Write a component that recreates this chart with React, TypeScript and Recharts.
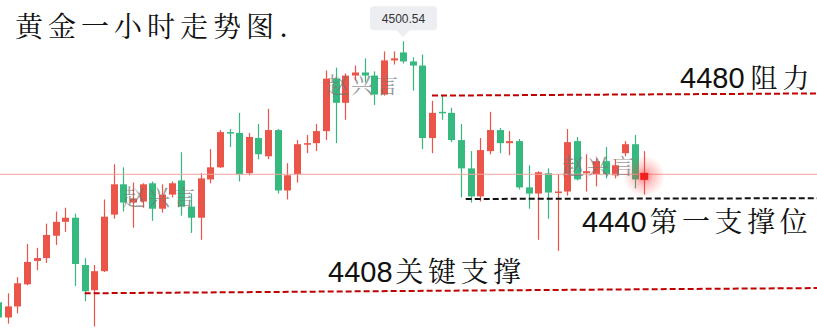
import { Bar, ComposedChart, ReferenceDot, ReferenceLine, XAxis, YAxis } from "recharts";

// hourly gold candles (red = up, green = down)
const opens = [
  4399.0, 4393.1, 4397.4, 4406.0, 4415.1, 4416.2, 4424.9, 4430.3, 4431.9, 4413.5,
  4403.7, 4411.1, 4433.1, 4444.9, 4437.8, 4438.2, 4445.3, 4435.4, 4440.9, 4446.4,
  4436.2, 4431.9, 4446.8, 4451.5, 4465.2, 4464.9, 4449.2, 4462.9, 4455.8, 4466.0,
  4442.5, 4448.8, 4460.5, 4460.9, 4465.6, 4486.0, 4476.6, 4487.2, 4488.4, 4487.2,
  4479.8, 4493.1, 4496.2, 4492.7, 4491.1, 4462.9, 4473.1, 4472.7, 4462.1, 4451.1,
  4440.2, 4457.8, 4466.0, 4460.9, 4461.7, 4443.7, 4441.3, 4449.2, 4441.7, 4442.1,
  4461.7, 4449.2, 4448.8, 4453.9, 4448.4, 4457.0, 4460.5, 4446.8,
];
const highs = [
  4400.2, 4402.5, 4408.8, 4421.7, 4420.2, 4429.6, 4434.3, 4435.8, 4433.5, 4416.2,
  4413.5, 4439.0, 4452.7, 4451.5, 4445.6, 4445.3, 4446.0, 4444.9, 4446.0, 4457.4,
  4441.3, 4449.2, 4458.6, 4466.0, 4466.4, 4472.7, 4464.9, 4468.4, 4474.3, 4466.4,
  4453.1, 4462.1, 4464.1, 4468.4, 4489.2, 4490.3, 4488.0, 4491.1, 4493.9, 4488.8,
  4496.6, 4496.6, 4500.54, 4494.3, 4495.4, 4477.4, 4479.4, 4474.7, 4468.4, 4457.8,
  4462.9, 4473.1, 4466.8, 4465.6, 4462.5, 4452.3, 4450.0, 4451.1, 4448.8, 4466.4,
  4463.3, 4456.6, 4455.0, 4459.4, 4454.7, 4461.7, 4464.1, 4457.8,
];
const lows = [
  4391.9, 4390.7, 4394.7, 4405.6, 4411.5, 4414.3, 4421.3, 4426.4, 4405.3, 4399.4,
  4389.6, 4410.8, 4431.5, 4434.3, 4428.0, 4435.8, 4430.7, 4433.9, 4439.8, 4432.7,
  4426.0, 4423.3, 4445.3, 4451.2, 4459.4, 4446.0, 4448.4, 4454.7, 4454.7, 4441.3,
  4439.0, 4445.6, 4457.0, 4457.8, 4462.1, 4460.9, 4470.0, 4485.3, 4484.5, 4475.8,
  4479.4, 4491.5, 4491.9, 4481.3, 4458.6, 4457.0, 4470.0, 4461.3, 4439.8, 4437.8,
  4438.2, 4456.6, 4457.0, 4456.2, 4442.9, 4435.4, 4423.3, 4431.5, 4419.0, 4440.5,
  4446.4, 4442.1, 4444.1, 4447.2, 4447.2, 4455.8, 4443.3, 4440.9,
];
const closes = [
  4393.1, 4397.4, 4406.4, 4414.7, 4416.2, 4425.2, 4430.3, 4431.9, 4413.9, 4403.3,
  4411.1, 4432.3, 4444.9, 4437.8, 4439.4, 4444.9, 4435.4, 4440.9, 4445.3, 4436.2,
  4431.9, 4447.2, 4451.5, 4465.2, 4464.9, 4448.8, 4463.3, 4456.6, 4466.0, 4442.5,
  4448.4, 4460.5, 4460.9, 4465.6, 4486.0, 4476.6, 4487.2, 4488.4, 4487.2, 4479.8,
  4493.1, 4493.9, 4492.7, 4491.1, 4462.9, 4472.7, 4472.7, 4462.1, 4451.1, 4440.2,
  4458.2, 4466.0, 4460.9, 4461.7, 4443.7, 4441.3, 4449.6, 4441.7, 4442.1, 4461.3,
  4446.8, 4450.0, 4453.9, 4448.8, 4452.3, 4460.5, 4446.8, 4449.2,
];

const slotCount = 88; // candles plus empty space on the right
const peakIndex = 42;
const peakLabel = "4500.54";
const currentPrice = 4448.8;

// hand drawn levels: [startSlot, yLeft, yRight]
const resistanceLine = [45, 4479.4, 4480.3];
const firstSupportLine = [49, 4439.2, 4439.5];
const keySupportLine = [9, 4402.5, 4404.6];

const RED = "#eb5449";
const GREEN = "#35b97f";

const rows = Array.from({ length: slotCount }, (_, i) =>
  i < opens.length
    ? { t: i, open: opens[i], high: highs[i], low: lows[i], close: closes[i] }
    : { t: i }
);

function Candle(props: any) {
  const { x, y, width, height, payload } = props;
  if (!payload || payload.open == null || !isFinite(y) || !isFinite(height)) return null;
  const top = Math.min(y, y + height);
  const span = Math.abs(height);
  const k = span / (payload.high - payload.low);
  const toY = (v: number) => top + (payload.high - v) * k;
  const cx = Math.round(x + width / 2);
  const color = payload.close >= payload.open ? RED : GREEN;
  const bodyTop = toY(Math.max(payload.open, payload.close));
  const bodyH = Math.max(1.5, Math.abs(toY(payload.open) - toY(payload.close)));
  return (
    <g>
      <line x1={cx + 0.5} x2={cx + 0.5} y1={top} y2={top + span} stroke={color} strokeWidth={1.2} />
      <rect x={cx - 3} y={bodyTop} width={7} height={bodyH} fill={color} />
    </g>
  );
}

function PeakTag(props: any) {
  const { cx, cy } = props;
  if (cx == null) return null;
  return (
    <g>
      <rect x={cx - 33} y={cy - 35} width={67} height={24} rx={4} fill="#eceef1" />
      <path d={`M${cx - 7},${cy - 11.5} L${cx + 7},${cy - 11.5} L${cx},${cy - 4} Z`} fill="#eceef1" />
      <text x={cx + 0.5} y={cy - 18.5} textAnchor="middle" fontSize={12} fill="#333"
        fontFamily="'Liberation Sans', Arial, sans-serif">
        {peakLabel}
      </text>
    </g>
  );
}

function Glow(props: any) {
  const { cx, cy } = props;
  if (cx == null) return null;
  return (
    <g>
      <defs>
        <radialGradient id="glow">
          <stop offset="0%" stopColor="#ff2a2a" stopOpacity={0.6} />
          <stop offset="45%" stopColor="#ff3b3b" stopOpacity={0.28} />
          <stop offset="100%" stopColor="#ff5050" stopOpacity={0} />
        </radialGradient>
      </defs>
      <circle cx={cx} cy={cy} r={21} fill="url(#glow)" />
      <rect x={cx - 4} y={cy - 3.5} width={8} height={7} fill="#f21f1f" />
    </g>
  );
}

const cjk = "'Noto Serif CJK SC', 'AR PL UKai CN', serif";
const digits = "'Liberation Sans', Arial, sans-serif";

export default function App() {
  const last = opens.length - 1;
  return (
    <div style={{ position: "fixed", left: 0, top: 0, width: 817, height: 328, overflow: "hidden", background: "#fff" }}>
      <ComposedChart
        width={849}
        height={328}
        data={rows}
        margin={{ top: 0, right: 0, bottom: 0, left: 0 }}
        style={{ position: "absolute", left: -7, top: 0 }}
      >
        <XAxis dataKey="t" type="category" hide />
        <YAxis hide domain={[4389, 4516.6]} allowDataOverflow />
        <ReferenceLine y={currentPrice} stroke="#f1a49c" strokeWidth={1} />
        <Bar
          dataKey={(d: any) => (d.open == null ? null : [d.low, d.high])}
          shape={Candle}
          isAnimationActive={false}
        />
        <ReferenceLine
          segment={[{ x: resistanceLine[0], y: resistanceLine[1] }, { x: slotCount - 1, y: resistanceLine[2] }]}
          stroke="#c00000" strokeWidth={2} strokeDasharray="6 3"
        />
        <ReferenceLine
          position="start"
          segment={[{ x: firstSupportLine[0], y: firstSupportLine[1] }, { x: slotCount - 1, y: firstSupportLine[2] }]}
          stroke="#111" strokeWidth={2} strokeDasharray="6 3"
        />
        <ReferenceLine
          segment={[{ x: keySupportLine[0], y: keySupportLine[1] }, { x: slotCount - 1, y: keySupportLine[2] }]}
          stroke="#c00000" strokeWidth={2} strokeDasharray="6 3"
        />
        <ReferenceDot x={peakIndex} y={highs[peakIndex]} shape={PeakTag} />
        <ReferenceDot x={last} y={(opens[last] + closes[last]) / 2} shape={Glow} />
      </ComposedChart>

      <svg width={817} height={328} style={{ position: "absolute", left: 0, top: 0, pointerEvents: "none" }}>
        <g fill="#777" opacity={0.75} fontFamily={cjk} fontSize={22} letterSpacing={3}>
          <text x={123} y={205}>赵兴言</text>
          <text x={326} y={93}>赵兴言</text>
          <text x={562} y={174}>赵兴言</text>
        </g>
        <text x={15} y={37} fontFamily={cjk} fontSize={28} letterSpacing={5} fill="#111">黄金一小时走势图.</text>
        <text x={680} y={88} fill="#111">
          <tspan fontFamily={digits} fontSize={29}>4480</tspan>
          <tspan dx={6} fontFamily={cjk} fontSize={27} letterSpacing={5}>阻力</tspan>
        </text>
        <text x={582} y={232} fill="#111">
          <tspan fontFamily={digits} fontSize={29}>4440</tspan>
          <tspan dx={3} fontFamily={cjk} fontSize={28} letterSpacing={4.5}>第一支撑位</tspan>
        </text>
        <text x={328} y={282} fill="#111">
          <tspan fontFamily={digits} fontSize={29}>4408</tspan>
          <tspan dx={3} fontFamily={cjk} fontSize={28} letterSpacing={4.5}>关键支撑</tspan>
        </text>
      </svg>
    </div>
  );
}
